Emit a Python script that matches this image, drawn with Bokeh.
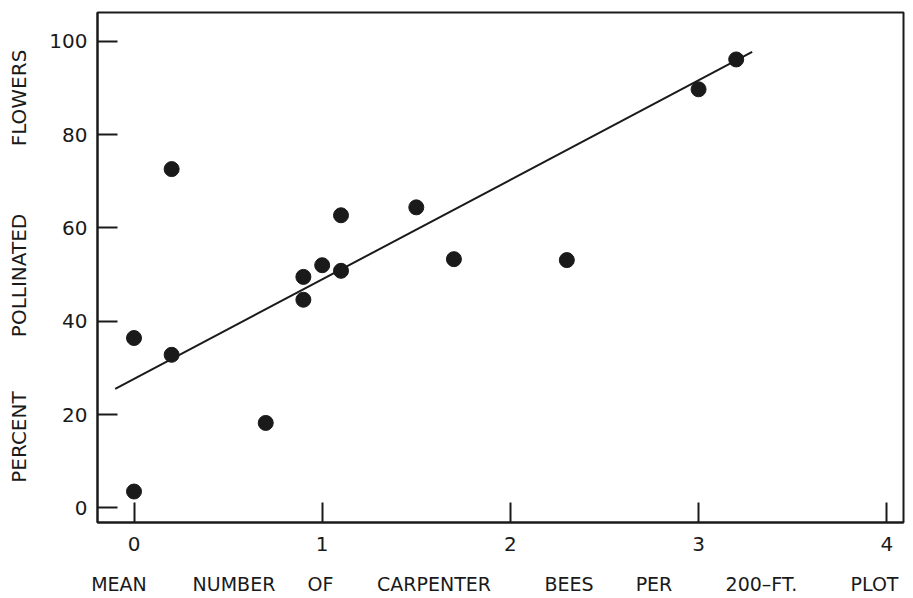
from bokeh.embed import file_html
from bokeh.models import ColumnDataSource, FixedTicker, LinearAxis, Range1d
from bokeh.plotting import figure
from bokeh.resources import INLINE

# Mean number of carpenter bees per plot vs. percent of flowers pollinated
bees = [0.0, 0.0, 0.2, 0.2, 0.7, 0.9, 0.9, 1.0, 1.1, 1.1, 1.5, 1.7, 2.3, 3.0, 3.2]
pollinated = [3.5, 36.4, 72.6, 32.8, 18.2, 49.5, 44.6, 52.0, 50.8, 62.7, 64.4, 53.3, 53.1, 89.7, 96.1]

# Fitted regression line (end points)
fit_x = [-0.10, 3.285]
fit_y = [25.5, 97.7]

x_ticks = [0, 1, 2, 3, 4]
y_ticks = [0, 20, 40, 60, 80, 100]

x_words = ["MEAN", "NUMBER", "OF", "CARPENTER", "BEES", "PER", "200\u2013FT.", "PLOT"]
y_words = ["PERCENT", "POLLINATED", "FLOWERS"]

W, H = 913, 598
LEFT, RIGHT, TOP, BOTTOM = 97, 10, 12, 76
X0, X1 = -0.194, 4.089
Y0, Y1 = -3.14, 106.16

FONT = "DejaVu Sans"
INK = "#1a1a1a"

p = figure(
    width=W, height=H,
    x_range=(X0, X1), y_range=(Y0, Y1),
    output_backend="svg", toolbar_location=None,
    min_border_left=LEFT, min_border_right=RIGHT,
    min_border_top=TOP, min_border_bottom=BOTTOM,
)
p.background_fill_color = "white"
p.border_fill_color = "white"
p.outline_line_color = INK
p.outline_line_width = 2
p.outline_line_alpha = 1.0
p.xgrid.visible = False
p.ygrid.visible = False

for ax, ticks, standoff in ((p.xaxis[0], x_ticks, 14), (p.yaxis[0], y_ticks, 10)):
    ax.ticker = FixedTicker(ticks=ticks)
    ax.axis_line_color = INK
    ax.axis_line_width = 2
    ax.major_tick_line_color = INK
    ax.major_tick_line_width = 2
    ax.major_tick_in = 20
    ax.major_tick_out = 0
    ax.minor_tick_line_color = None
    ax.major_label_text_font = FONT
    ax.major_label_text_font_size = "20px"
    ax.major_label_text_color = INK
    ax.major_label_standoff = standoff

src = ColumnDataSource(dict(x=bees, y=pollinated))
p.line(fit_x, fit_y, line_color=INK, line_width=2)
p.scatter("x", "y", source=src, size=15, fill_color=INK, line_color=INK)

# Spaced-out axis titles: one word per tick on an extra, line-less axis
# whose range runs in canvas pixels.
p.extra_x_ranges["px"] = Range1d(LEFT, W - RIGHT)
p.extra_y_ranges["py"] = Range1d(H - BOTTOM, TOP)

x_word_px = [118.5, 233.5, 320, 433.5, 568.5, 653.5, 761, 874]
y_word_py = [436.5, 275, 97.5]


def word_axis(axis, positions, words, standoff, size):
    axis.ticker = FixedTicker(ticks=positions)
    axis.major_label_overrides = {pos: w for pos, w in zip(positions, words)}
    axis.axis_line_color = None
    axis.major_tick_line_color = None
    axis.minor_tick_line_color = None
    axis.major_label_text_font = FONT
    axis.major_label_text_font_size = size
    axis.major_label_text_color = INK
    axis.major_label_standoff = standoff
    return axis


xa = word_axis(LinearAxis(x_range_name="px"), x_word_px, x_words, 13, "19px")
p.add_layout(xa, "below")

ya = word_axis(LinearAxis(y_range_name="py"), y_word_py, y_words, 10, "20px")
ya.major_label_orientation = "vertical"
p.add_layout(ya, "left")

open("out.html", "w").write(file_html(p, INLINE))
